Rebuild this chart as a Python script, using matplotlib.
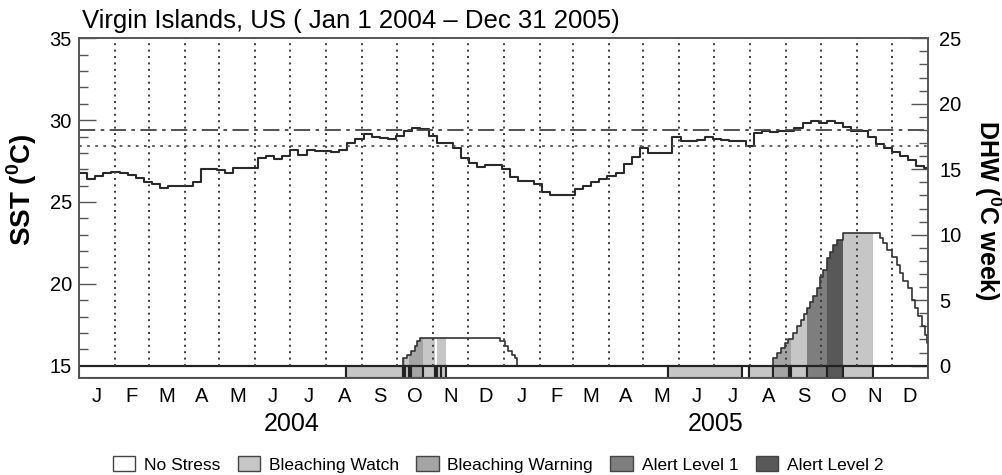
import numpy as np
import matplotlib.pyplot as plt
from matplotlib.patches import Patch

plt.rcParams['font.family'] = ['Liberation Sans', 'DejaVu Sans']
plt.rcParams['mathtext.fontset'] = 'custom'
plt.rcParams['mathtext.rm'] = 'Liberation Sans'
plt.rcParams['mathtext.bf'] = 'Liberation Sans:bold'

# weekly SST (deg C), first value on Jan 1 2004
sst_weekly = [26.8, 26.4, 26.6, 26.75, 26.85, 26.75, 26.65, 26.45, 26.25, 26.1,
              25.85, 26.0, 26.0, 26.0, 26.2, 27.0, 27.0, 26.95, 26.8, 27.05,
              27.05, 27.05, 27.7, 27.8, 27.65, 27.8, 28.15, 27.9, 28.15, 28.1,
              28.1, 28.05, 28.2, 28.6, 28.85, 29.15, 28.95, 28.9, 28.85, 29.05,
              29.35, 29.53, 29.45, 29.05, 28.62, 28.6, 28.3, 27.7, 27.4, 27.15,
              27.28, 27.28, 27.0, 26.5, 26.3, 26.3, 26.1, 25.6, 25.42, 25.42,
              25.45, 25.8, 26.0, 26.2, 26.4, 26.6, 26.8, 27.35, 27.75, 28.3,
              28.0, 28.0, 28.0, 28.95, 28.75, 28.75, 28.78, 29.0, 28.85, 28.8,
              28.75, 28.72, 28.42, 29.2, 29.32, 29.25, 29.35, 29.33, 29.55, 29.8,
              29.95, 29.85, 29.92, 29.85, 29.6, 29.35, 29.35, 29.0, 28.55, 28.3,
              28.05, 27.8, 27.55, 27.2, 27.05]

mmm = 28.42          # dotted line
threshold = 29.42    # dash-dot line

# degree heating weeks: day of change (days since Jan 1 2004) and new value
dhw_days = [0, 278.7, 282.7, 286.1, 289.0, 291.3, 293.3,
            362.5, 366.8, 369.7, 372.6, 375.4, 376.9,
            597.8, 600.7, 604.2, 607.9, 610.7, 614.5, 618.0, 621.4, 624.3, 626.6,
            629.4, 632.3, 635.2, 638.0, 640.9, 643.8, 646.6, 649.5, 652.4, 657.5,
            689.7, 692.5, 696.0, 699.7, 704.0, 706.9, 709.7, 714.0, 717.0, 719.8,
            722.7, 725.6, 728.4, 730.0]
dhw_vals = [0, 0.55, 0.85, 1.15, 1.5, 1.85, 2.15,
            1.85, 1.5, 1.15, 0.85, 0.55, 0,
            0.58, 0.97, 1.35, 1.73, 2.03, 2.49, 3.0, 3.5, 3.96, 4.4,
            4.9, 5.34, 5.92, 6.76, 7.3, 8.2, 8.7, 9.2, 9.6, 10.15,
            9.73, 9.35, 8.85, 8.33, 7.7, 7.06, 6.43, 5.92, 5.03, 4.4,
            3.76, 3.0, 2.36, 1.7]

# stress level periods: start day and level index
stress_start = [0, 229.9, 278.7, 281.0, 283.9, 286.1, 296.2, 306.3, 308.5, 312.0,
                316.3, 507.4, 570.6, 577.1, 597.8, 611.3, 613.5, 626.6, 643.8,
                657.5, 683.5]
stress_level = [0, 1, 2, 1, 2, 2, 1, 0, 1, 1, 0, 1, 0, 1, 2, 2, 1, 3, 4, 1, 0]

levels = ['No Stress', 'Bleaching Watch', 'Bleaching Warning',
          'Alert Level 1', 'Alert Level 2']
level_colors = ['white', '#c6c6c6', '#a4a4a4', '#7e7e7e', '#585858']

months = ['J', 'F', 'M', 'A', 'M', 'J', 'J', 'A', 'S', 'O', 'N', 'D'] * 2
month_len = [31, 29, 31, 30, 31, 30, 31, 31, 30, 31, 30, 31,
             31, 28, 31, 30, 31, 30, 31, 31, 30, 31, 30, 31]
years = ['2004', '2005']

end_day = sum(month_len)
sst_min, sst_max = 14.23, 35
dhw_min, dhw_max = (sst_min - 15) * 1.25, 25


def dhw_at(d):
    idx = np.searchsorted(dhw_days, d, side='right') - 1
    return np.array(dhw_vals)[idx]


fig = plt.figure(figsize=(10.02, 4.75), dpi=100)
ax1 = fig.add_axes([0.0788, 0.2036, 0.8473, 0.7158])
ax2 = ax1.twinx()

ax1.set_xlim(0, end_day)
ax1.set_ylim(sst_min, sst_max)
ax2.set_ylim(dhw_min, dhw_max)

# SST
days = list(np.arange(len(sst_weekly)) * 7) + [end_day]
ax1.step(days, sst_weekly + [sst_weekly[-1]], where='post', color='#2a2a2a', lw=1.5)
ax1.axhline(threshold, color='#444444', lw=1.3, ls=(0, (9, 3, 2, 3)))
ax1.axhline(mmm, color='#555555', lw=1.3, ls=(0, (1.5, 3)))

# DHW fill coloured by stress level
ends = stress_start[1:] + [end_day]
for s, e, lev in zip(stress_start, ends, stress_level):
    if lev == 0:
        continue
    xs = [s] + [d for d in dhw_days if s < d < e] + [e]
    ax2.fill_between(xs, 0, dhw_at(xs), step='post', color=level_colors[lev], lw=0)

ax2.step(dhw_days + [end_day], dhw_vals + [dhw_vals[-1]], where='post',
         color='#333333', lw=1.2)

# stress strip under the plot
widths = np.array(ends) - np.array(stress_start)
ax2.bar(stress_start, -dhw_min, bottom=dhw_min, width=widths, align='edge',
        color=[level_colors[l] for l in stress_level], edgecolor='#222222', lw=1.5)
ax2.axhline(0, color='#222222', lw=1.5)

# month separators
bounds = np.cumsum(month_len)[:-1]
ax2.vlines(bounds, 0, dhw_max, colors='#3a3a3a', lw=1.4, linestyles=(0, (1, 2.3)))

# axes styling
for a in (ax1, ax2):
    for sp in a.spines.values():
        sp.set_color('#555555')
        sp.set_linewidth(1.2)

ax1.set_yticks([15, 20, 25, 30, 35])
ax1.set_yticks(range(15, 36), minor=True)
ax1.tick_params(axis='y', which='major', direction='in', length=12.5, width=1,
                color='#555555', pad=5, labelsize=14.5)
ax1.tick_params(axis='y', which='minor', direction='in', length=6.5, width=1,
                color='#555555')
ax2.set_yticks([0, 5, 10, 15, 20, 25])
ax2.set_yticks(range(0, 26), minor=True)
ax2.tick_params(axis='y', which='major', direction='in', length=12.5, width=1,
                color='#555555', pad=8, labelsize=14.5)
ax2.tick_params(axis='y', which='minor', direction='in', length=6.5, width=1,
                color='#555555')

starts = np.concatenate([[0], bounds])
ax1.set_xticks(starts + np.array(month_len) / 2, months)
ax1.tick_params(axis='x', length=0, pad=6, labelsize=14.5)

year_len = [sum(month_len[:12]), sum(month_len[12:])]
for i, y in enumerate(years):
    ax1.text(sum(year_len[:i]) + year_len[i] / 2, -0.134, y,
             transform=ax1.get_xaxis_transform(), ha='center', va='center', fontsize=18)

fig.text(0.0815, 0.9404, 'Virgin Islands, US ( Jan 1 2004 \u2013 Dec 31 2005)',
         fontsize=18.5, va='baseline', ha='left')
fig.text(0.022, 1 - 190 / 475, r'SST ($^\mathbf{0}$C)', rotation=90, ha='center',
         va='center', fontsize=20, fontweight='bold')
fig.text(0.986, 1 - 210 / 475, r'DHW ($^\mathbf{0}$C week)', rotation=270,
         ha='center', va='center', fontsize=18, fontweight='bold')

handles = [Patch(facecolor=c, edgecolor='#444444', lw=1) for c in level_colors]
fig.legend(handles, levels, loc='center', bbox_to_anchor=(0.497, 1 - 464.5 / 475),
           ncol=5, frameon=False, fontsize=12.5, handlelength=1.3,
           handleheight=0.95, handletextpad=0.5, columnspacing=1.0, borderaxespad=0)

fig.savefig('out.png', dpi=100)
